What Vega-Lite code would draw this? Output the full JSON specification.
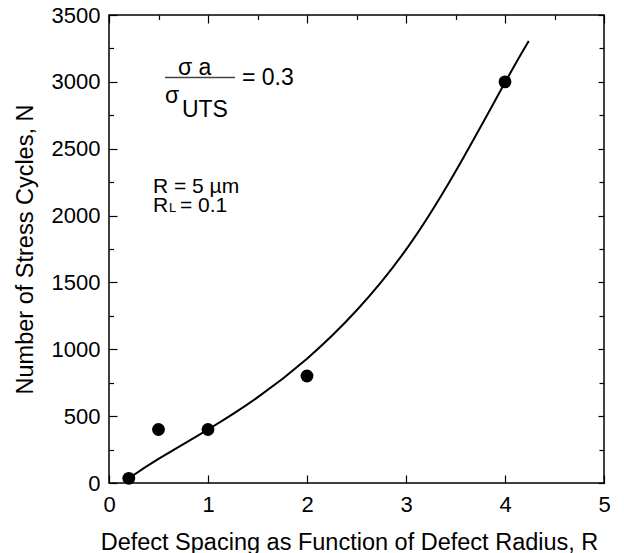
{
  "$schema": "https://vega.github.io/schema/vega-lite/v6.json",
  "width": 495,
  "height": 468,
  "autosize": "none",
  "padding": {"left": 109, "top": 15, "right": 20, "bottom": 70},
  "config": {
    "font": "Liberation Sans",
    "view": {"stroke": "black", "strokeWidth": 1.5},
    "axis": {"grid": false, "domain": false, "tickColor": "black", "tickWidth": 1.2, "labelColor": "black", "titleColor": "black", "labelFont": "Liberation Sans", "titleFont": "Liberation Sans", "labelFontSize": 22, "titleFontSize": 23.5, "titleFontWeight": "normal"}
  },
  "datasets": {
    "curve": [
      {"x": 0.22, "y": 45}, {"x": 0.5, "y": 180}, {"x": 1.0, "y": 400}, {"x": 1.5, "y": 640},
      {"x": 2.0, "y": 930}, {"x": 2.5, "y": 1290}, {"x": 3.0, "y": 1745}, {"x": 3.5, "y": 2330},
      {"x": 4.0, "y": 2995}, {"x": 4.24, "y": 3305}
    ],
    "points": [
      {"x": 0.2, "y": 35}, {"x": 0.5, "y": 400}, {"x": 1.0, "y": 400}, {"x": 2.0, "y": 800}, {"x": 4.0, "y": 3000}
    ],
    "sigmas": [
      {"tx": 0.697, "ty": 3049, "label": "σ a"},
      {"tx": 0.566, "ty": 2840, "label": "σ"},
      {"tx": 0.737, "ty": 2734, "label": "UTS"},
      {"tx": 1.343, "ty": 2974, "label": "= 0.3"}
    ],
    "notes": [
      {"tx": 0.444, "ty": 2172, "label": "R = 5 µm"},
      {"tx": 0.444, "ty": 2027, "label": "R"},
      {"tx": 0.717, "ty": 2027, "label": "= 0.1"}
    ],
    "subs": [
      {"tx": 0.606, "ty": 2027, "label": "L"}
    ],
    "bar": [
      {"x1": 0.566, "x2": 1.273, "yb": 3032}
    ]
  },
  "resolve": {"axis": {"x": "independent", "y": "independent"}},
  "layer": [
    {
      "data": {"name": "curve"},
      "mark": {"type": "line", "color": "black", "strokeWidth": 2, "interpolate": "natural"},
      "encoding": {
        "x": {"field": "x", "type": "quantitative", "scale": {"domain": [0, 5], "nice": false},
          "axis": {"orient": "bottom", "values": [0, 0.5, 1, 1.5, 2, 2.5, 3, 3.5, 4, 4.5, 5],
            "title": "Defect Spacing as Function of Defect Radius, R",
            "format": "d",
            "labelExpr": "datum.value % 1 === 0 ? datum.label : ''",
            "tickSize": {"condition": {"test": "datum.value % 1 === 0", "value": -8}, "value": -4.5},
            "labelPadding": 19, "labelFlush": false,
            "titleX": 240, "titleY": 66, "titleBaseline": "alphabetic", "titleAnchor": "middle"}},
        "y": {"field": "y", "type": "quantitative", "scale": {"domain": [0, 3500], "nice": false},
          "axis": {"orient": "left", "values": [0, 250, 500, 750, 1000, 1250, 1500, 1750, 2000, 2250, 2500, 2750, 3000, 3250, 3500],
            "title": "Number of Stress Cycles, N",
            "format": "d",
            "labelExpr": "datum.value % 500 === 0 ? datum.label : ''",
            "tickSize": {"condition": {"test": "datum.value % 500 === 0", "value": -8}, "value": -4.5},
            "labelPadding": 17, "labelFlush": false,
            "titleX": -84, "titleY": 234, "titleBaseline": "middle", "titleAngle": -90, "titleAnchor": "middle", "titleAlign": "center"}}
      }
    },
    {
      "data": {"name": "points"},
      "mark": {"type": "point", "filled": true, "color": "black", "opacity": 1, "size": 165, "shape": "circle"},
      "encoding": {
        "x": {"field": "x", "type": "quantitative",
          "axis": {"orient": "top", "values": [0, 0.5, 1, 1.5, 2, 2.5, 3, 3.5, 4, 4.5, 5], "labels": false, "title": null,
            "tickSize": {"condition": {"test": "datum.value % 1 === 0", "value": -8}, "value": -4.5}}},
        "y": {"field": "y", "type": "quantitative",
          "axis": {"orient": "right", "values": [0, 250, 500, 750, 1000, 1250, 1500, 1750, 2000, 2250, 2500, 2750, 3000, 3250, 3500], "labels": false, "title": null,
            "tickSize": {"condition": {"test": "datum.value % 500 === 0", "value": -6}, "value": -5}}}
      }
    },
    {
      "data": {"name": "sigmas"},
      "mark": {"type": "text", "align": "left", "baseline": "alphabetic", "fontSize": 23, "color": "black"},
      "encoding": {
        "x": {"field": "tx", "type": "quantitative", "axis": null},
        "y": {"field": "ty", "type": "quantitative", "axis": null},
        "text": {"field": "label"}
      }
    },
    {
      "data": {"name": "notes"},
      "mark": {"type": "text", "align": "left", "baseline": "alphabetic", "fontSize": 21, "color": "black"},
      "encoding": {
        "x": {"field": "tx", "type": "quantitative", "axis": null},
        "y": {"field": "ty", "type": "quantitative", "axis": null},
        "text": {"field": "label"}
      }
    },
    {
      "data": {"name": "subs"},
      "mark": {"type": "text", "align": "left", "baseline": "alphabetic", "fontSize": 13, "color": "black"},
      "encoding": {
        "x": {"field": "tx", "type": "quantitative", "axis": null},
        "y": {"field": "ty", "type": "quantitative", "axis": null},
        "text": {"field": "label"}
      }
    },
    {
      "data": {"name": "bar"},
      "mark": {"type": "rule", "color": "#444444", "strokeWidth": 1.5},
      "encoding": {
        "x": {"field": "x1", "type": "quantitative", "axis": null},
        "x2": {"field": "x2"},
        "y": {"field": "yb", "type": "quantitative", "axis": null}
      }
    }
  ]
}
